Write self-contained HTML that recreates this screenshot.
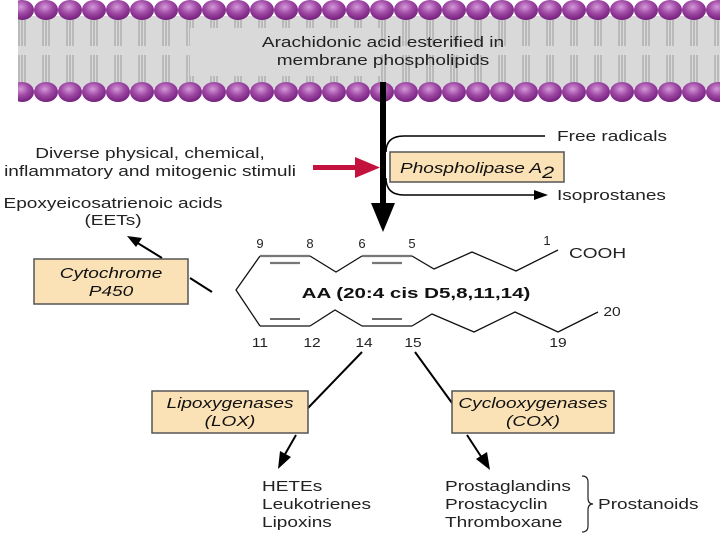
<!DOCTYPE html>
<html><head><style>
html,body{margin:0;padding:0;background:#fff;}
svg{display:block;font-family:"Liberation Sans",sans-serif;}
</style></head><body>
<svg width="720" height="540" viewBox="0 0 720 540" xmlns="http://www.w3.org/2000/svg">
<defs>
<radialGradient id="bead" cx="0.45" cy="0.35" r="0.65">
<stop offset="0" stop-color="#d49ad8"/><stop offset="0.5" stop-color="#a04aa6"/><stop offset="1" stop-color="#74207c"/>
</radialGradient>
<pattern id="tails" x="10" y="0" width="24" height="100" patternUnits="userSpaceOnUse">
<g stroke="#9a9a9a" stroke-width="1" fill="none">
<path d="M9 20v26M12 20v26M15 20v26M9 55v28M12 55v28M15 55v28"/>
</g>
</pattern>
<clipPath id="mem"><rect x="18" y="0" width="702" height="110"/></clipPath>
</defs>
<g clip-path="url(#mem)">
<rect x="14" y="16" width="706" height="72" fill="#d9d9d9"/>
<rect x="14" y="16" width="706" height="72" fill="url(#tails)"/>
<rect x="190" y="28" width="190" height="48" fill="#d9d9d9"/>
<g fill="url(#bead)">
<ellipse cx="22" cy="10" rx="12" ry="10"/><ellipse cx="46" cy="10" rx="12" ry="10"/><ellipse cx="70" cy="10" rx="12" ry="10"/><ellipse cx="94" cy="10" rx="12" ry="10"/><ellipse cx="118" cy="10" rx="12" ry="10"/><ellipse cx="142" cy="10" rx="12" ry="10"/><ellipse cx="166" cy="10" rx="12" ry="10"/><ellipse cx="190" cy="10" rx="12" ry="10"/><ellipse cx="214" cy="10" rx="12" ry="10"/><ellipse cx="238" cy="10" rx="12" ry="10"/><ellipse cx="262" cy="10" rx="12" ry="10"/><ellipse cx="286" cy="10" rx="12" ry="10"/><ellipse cx="310" cy="10" rx="12" ry="10"/><ellipse cx="334" cy="10" rx="12" ry="10"/><ellipse cx="358" cy="10" rx="12" ry="10"/><ellipse cx="382" cy="10" rx="12" ry="10"/><ellipse cx="406" cy="10" rx="12" ry="10"/><ellipse cx="430" cy="10" rx="12" ry="10"/><ellipse cx="454" cy="10" rx="12" ry="10"/><ellipse cx="478" cy="10" rx="12" ry="10"/><ellipse cx="502" cy="10" rx="12" ry="10"/><ellipse cx="526" cy="10" rx="12" ry="10"/><ellipse cx="550" cy="10" rx="12" ry="10"/><ellipse cx="574" cy="10" rx="12" ry="10"/><ellipse cx="598" cy="10" rx="12" ry="10"/><ellipse cx="622" cy="10" rx="12" ry="10"/><ellipse cx="646" cy="10" rx="12" ry="10"/><ellipse cx="670" cy="10" rx="12" ry="10"/><ellipse cx="694" cy="10" rx="12" ry="10"/><ellipse cx="718" cy="10" rx="12" ry="10"/>
<ellipse cx="22" cy="92" rx="12" ry="10"/><ellipse cx="46" cy="92" rx="12" ry="10"/><ellipse cx="70" cy="92" rx="12" ry="10"/><ellipse cx="94" cy="92" rx="12" ry="10"/><ellipse cx="118" cy="92" rx="12" ry="10"/><ellipse cx="142" cy="92" rx="12" ry="10"/><ellipse cx="166" cy="92" rx="12" ry="10"/><ellipse cx="190" cy="92" rx="12" ry="10"/><ellipse cx="214" cy="92" rx="12" ry="10"/><ellipse cx="238" cy="92" rx="12" ry="10"/><ellipse cx="262" cy="92" rx="12" ry="10"/><ellipse cx="286" cy="92" rx="12" ry="10"/><ellipse cx="310" cy="92" rx="12" ry="10"/><ellipse cx="334" cy="92" rx="12" ry="10"/><ellipse cx="358" cy="92" rx="12" ry="10"/><ellipse cx="382" cy="92" rx="12" ry="10"/><ellipse cx="406" cy="92" rx="12" ry="10"/><ellipse cx="430" cy="92" rx="12" ry="10"/><ellipse cx="454" cy="92" rx="12" ry="10"/><ellipse cx="478" cy="92" rx="12" ry="10"/><ellipse cx="502" cy="92" rx="12" ry="10"/><ellipse cx="526" cy="92" rx="12" ry="10"/><ellipse cx="550" cy="92" rx="12" ry="10"/><ellipse cx="574" cy="92" rx="12" ry="10"/><ellipse cx="598" cy="92" rx="12" ry="10"/><ellipse cx="622" cy="92" rx="12" ry="10"/><ellipse cx="646" cy="92" rx="12" ry="10"/><ellipse cx="670" cy="92" rx="12" ry="10"/><ellipse cx="694" cy="92" rx="12" ry="10"/><ellipse cx="718" cy="92" rx="12" ry="10"/>
</g>
</g>
<g font-size="15" fill="#222" text-anchor="middle">
<text transform="translate(383 47) scale(1.27 1)">Arachidonic acid esterified in</text>
<text transform="translate(383 65) scale(1.27 1)">membrane phospholipids</text>
</g>
<!-- big arrow -->
<rect x="380" y="82" width="6" height="128" fill="#000"/>
<path d="M371 203 L395 203 L383 232 Z" fill="#000"/>
<!-- free radicals / isoprostanes -->
<path d="M386 152 Q386 136 404 136 L545 136" fill="none" stroke="#000" stroke-width="1.5"/>
<path d="M386 178 Q386 195 404 195 L536 195" fill="none" stroke="#000" stroke-width="1.5"/>
<path d="M548 195 L534 190 L534 200 Z" fill="#000"/>
<rect x="390" y="152" width="174" height="30" fill="#fbe2b6" stroke="#555" stroke-width="1.5"/>
<text transform="translate(400 173) scale(1.27 1)" font-size="15" font-style="italic" fill="#111">Phospholipase A<tspan font-size="17" dy="5">2</tspan></text>
<g font-size="15" fill="#222">
<text transform="translate(557 141) scale(1.27 1)">Free radicals</text>
<text transform="translate(557 200) scale(1.27 1)">Isoprostanes</text>
</g>
<!-- red arrow -->
<rect x="313" y="165" width="46" height="5" fill="#c4123f"/>
<path d="M355 157 L380 167.5 L355 178 Z" fill="#c4123f"/>
<g font-size="15" fill="#222" text-anchor="middle">
<text transform="translate(150 158) scale(1.27 1)">Diverse physical, chemical,</text>
<text transform="translate(150 176) scale(1.27 1)">inflammatory and mitogenic stimuli</text>
<text transform="translate(113 208) scale(1.27 1)">Epoxyeicosatrienoic acids</text>
<text transform="translate(113 225) scale(1.27 1)">(EETs)</text>
</g>
<!-- cytochrome -->
<line x1="162" y1="258" x2="136" y2="242" stroke="#000" stroke-width="2"/>
<path d="M127 236 L142 238 L136 247 Z" fill="#000"/>
<line x1="190" y1="278" x2="212" y2="292" stroke="#000" stroke-width="2"/>
<rect x="34" y="259" width="154" height="45" fill="#fbe2b6" stroke="#555" stroke-width="1.5"/>
<g font-size="15" font-style="italic" fill="#111" text-anchor="middle">
<text transform="translate(111 278) scale(1.27 1)">Cytochrome</text>
<text transform="translate(111 296) scale(1.27 1)">P450</text>
</g>
<!-- molecule -->
<g fill="none" stroke="#111" stroke-width="1.3">
<polyline points="558,250 516,271 472,252 434,269 412,256"/>
<polyline points="362,256 336,272 310,256"/>
<polyline points="260,256 236,290 260,326"/>
<polyline points="310,326 335,310 362,326"/>
<polyline points="412,326 432,314 474,332 515,312 558,332 598,312"/>
<line x1="260" y1="326" x2="310" y2="326"/>
<line x1="362" y1="326" x2="412" y2="326"/>
<line x1="270" y1="319" x2="300" y2="319"/>
<line x1="372" y1="319" x2="402" y2="319"/>
</g>
<g stroke="#777" stroke-width="2.2">
<line x1="260" y1="256" x2="310" y2="256"/>
<line x1="362" y1="256" x2="412" y2="256"/>
<line x1="270" y1="263" x2="300" y2="263"/>
<line x1="372" y1="263" x2="402" y2="263"/>
</g>
<g font-size="13" fill="#222" text-anchor="middle">
<text x="260" y="248">9</text><text x="310" y="248">8</text><text x="362" y="248">6</text><text x="412" y="248">5</text><text x="547" y="245">1</text>
<text transform="translate(260 347) scale(1.2 1)">11</text><text transform="translate(312 347) scale(1.2 1)">12</text><text transform="translate(364 347) scale(1.2 1)">14</text><text transform="translate(413 347) scale(1.2 1)">15</text><text transform="translate(558 347) scale(1.2 1)">19</text>
<text transform="translate(612 316) scale(1.2 1)">20</text>
</g>
<text transform="translate(569 258) scale(1.27 1)" font-size="15" fill="#222">COOH</text>
<text transform="translate(416 298) scale(1.37 1)" font-size="15" font-weight="bold" fill="#111" text-anchor="middle">AA (20:4 cis D5,8,11,14)</text>
<!-- LOX / COX -->
<g stroke="#000" stroke-width="2">
<line x1="362" y1="352" x2="308" y2="408"/>
<line x1="415" y1="352" x2="452" y2="403"/>
<line x1="296" y1="435" x2="284" y2="456"/>
<line x1="467" y1="435" x2="482" y2="458"/>
</g>
<path d="M278 469 L280 451 L291 457 Z" fill="#000"/>
<path d="M490 470 L476 459 L487 452 Z" fill="#000"/>
<rect x="152" y="391" width="156" height="42" fill="#fbe2b6" stroke="#555" stroke-width="1.5"/>
<rect x="452" y="391" width="162" height="42" fill="#fbe2b6" stroke="#555" stroke-width="1.5"/>
<g font-size="15" font-style="italic" fill="#111" text-anchor="middle">
<text transform="translate(230 408) scale(1.27 1)">Lipoxygenases</text><text transform="translate(230 426) scale(1.27 1)">(LOX)</text>
<text transform="translate(533 408) scale(1.27 1)">Cyclooxygenases</text><text transform="translate(533 426) scale(1.27 1)">(COX)</text>
</g>
<g font-size="15" fill="#222">
<text transform="translate(262 491) scale(1.27 1)">HETEs</text><text transform="translate(262 509) scale(1.27 1)">Leukotrienes</text><text transform="translate(262 527) scale(1.27 1)">Lipoxins</text>
<text transform="translate(445 491) scale(1.27 1)">Prostaglandins</text><text transform="translate(445 509) scale(1.27 1)">Prostacyclin</text><text transform="translate(445 527) scale(1.27 1)">Thromboxane</text>
<text transform="translate(598 509) scale(1.27 1)">Prostanoids</text>
</g>
<path d="M582 476 Q588 476 588 482 L588 498 Q588 504 593 504 Q588 504 588 510 L588 526 Q588 532 582 532" fill="none" stroke="#222" stroke-width="1.2"/>
</svg>
</body></html>
